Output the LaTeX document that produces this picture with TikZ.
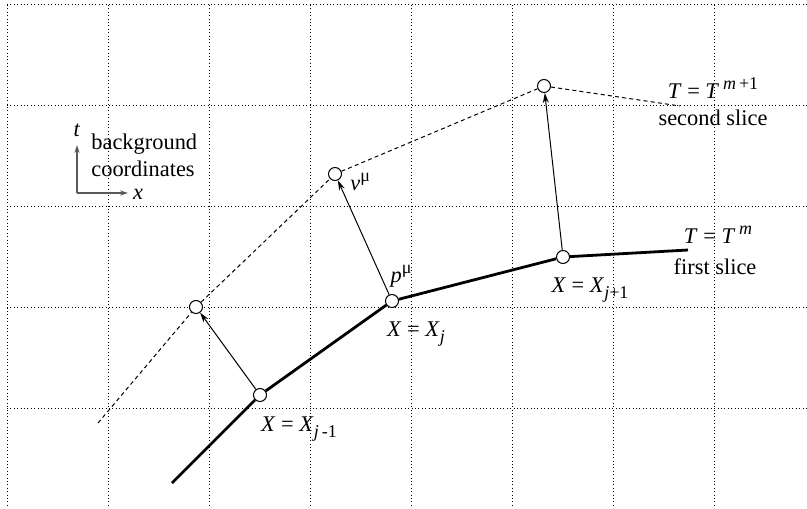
\documentclass[tikz,border=0pt]{standalone}
\usepackage{fontspec}
\setmainfont{Liberation Serif}
\usepackage{tikz}
\usetikzlibrary{positioning,arrows,arrows.meta}
\newcommand{\subx}[1]{\raisebox{-0.55ex}{\fontsize{9}{9}\selectfont #1}}
\newcommand{\supx}[1]{\raisebox{0.85ex}{\fontsize{9}{9}\selectfont #1}}
\tikzset{
  >=stealth,
  every node/.style={font=\fontsize{11.2}{13.5}\selectfont},
  % --- nodes
  pt/.style    = {circle, draw=black, fill=white, line width=0.5pt,
                  minimum size=6.5pt, inner sep=0pt},
  lbl/.style   = {inner sep=0pt},
  % --- lines
  gridline/.style = {line width=0.5pt, dash pattern=on 0.5pt off 1.2pt},
  slice/.style = {line width=1.4pt, draw=black},
  guess/.style = {line width=0.5pt, dash pattern=on 2pt off 1.6pt},
  vec/.style   = {-{Stealth[length=5pt,width=3pt]}, line width=0.5pt, draw=black},
  axis/.style  = {-{Stealth[length=4pt,width=2.6pt]}, line width=0.6pt, draw=black!65},
}
\begin{document}
\begin{tikzpicture}[x=0.5pt,y=-0.5pt]
  \useasboundingbox (0,0) rectangle (807,508);
  % background grid
  \foreach \gx in {0,...,7}
    \draw[gridline] ({7+101.1*\gx},5) -- ({7+101.1*\gx},508);
  \foreach \gy in {0,...,4}
    \draw[gridline] (7,{5+100.8*\gy}) -- (807,{5+100.8*\gy});

  % axes
  \coordinate (orig) at (77,193);
  \coordinate (tend) at (77,145);
  \coordinate (xend) at (128,193);
  \draw[axis] (orig) -- (tend);
  \draw[axis] (orig) -- (xend);
  \node[lbl] (tlbl) at (77,130) {\textit{t}};
  \node[lbl] (xlbl) at (138,194) {\textit{x}};
  \node[lbl, anchor=west, align=left] (bg) at (91,155) {background\\coordinates};

  % first slice
  \node[pt] (xjm) at (260,395) {};
  \node[pt] (xj)  at (392,301) {};
  \node[pt] (xjp) at (563,257) {};
  \coordinate (fstart) at (172,483);
  \coordinate (fend)   at (688,250);
  \draw[slice] (fstart) -- (xjm) -- (xj) -- (xjp) -- (fend);

  % second slice
  \node[pt] (yjm) at (196,307) {};
  \node[pt] (yj)  at (335,174) {};
  \node[pt] (yjp) at (544,86) {};
  \coordinate (sstart) at (98,423);
  \coordinate (send)   at (680,106);
  \draw[guess] (sstart) -- (yjm) -- (yj) -- (yjp) -- (send);

  % displacements
  \draw[vec] (xjm) -- (yjm);
  \draw[vec] (xj) -- (yj);
  \draw[vec] (xjp) -- (yjp);

  % labels
  \node[lbl, anchor=west] (vlbl) at (350,182) {\textit{ν}\supx{μ}};
  \node[lbl] (plbl) at (401,276) {\textit{p}\supx{μ}};
  \node[lbl] (xjlbl)  at (416,334) {\textit{X} = \textit{X}\subx{\textit{j}}};
  \node[lbl] (xjmlbl) at (299,429) {\textit{X} = \textit{X}\subx{\textit{j}\,-1}};
  \node[lbl] (xjplbl) at (590,290) {\textit{X} = \textit{X}\subx{\textit{j}+1}};
  \node[lbl] (tm)    at (718,235) {\textit{T} = \textit{T}\,\supx{\textit{m}}};
  \node[lbl] (first) at (715,267) {first slice};
  \node[lbl] (tmp)   at (713,88)  {\textit{T} = \textit{T}\,\supx{\textit{m}\,+1}};
  \node[lbl] (second) at (713,118) {second slice};
\end{tikzpicture}
\end{document}
